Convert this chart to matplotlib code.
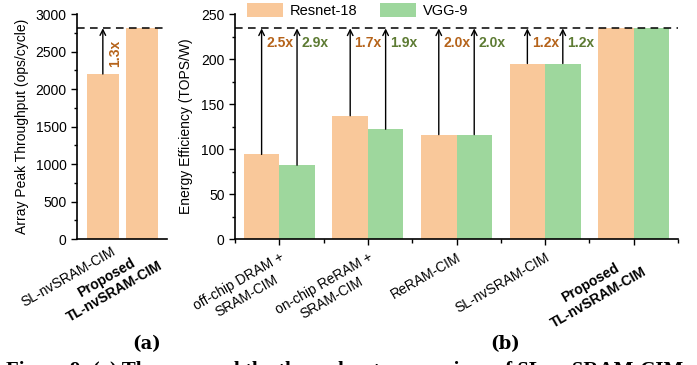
import numpy as np
import matplotlib
matplotlib.use('Agg')
import matplotlib.pyplot as plt
from matplotlib.ticker import MultipleLocator, FixedLocator

plt.rcParams['font.family'] = ['Liberation Sans', 'DejaVu Sans']

# panel (a) data
a_labels = ['SL-nvSRAM-CIM', 'Proposed\nTL-nvSRAM-CIM']
a_values = [2200, 2810]
a_gain = ['1.3x']

# panel (b) data
b_labels = ['off-chip DRAM +\nSRAM-CIM', 'on-chip ReRAM +\nSRAM-CIM', 'ReRAM-CIM',
            'SL-nvSRAM-CIM', 'Proposed\nTL-nvSRAM-CIM']
resnet = [94, 137, 116, 195, 234]
vgg = [82, 122, 116, 195, 234]
resnet_gain = ['2.5x', '1.7x', '2.0x', '1.2x']
vgg_gain = ['2.9x', '1.9x', '2.0x', '1.2x']

ORANGE = '#F9C89A'
GREEN = '#9ED79D'
ORANGE_TXT = '#B5631A'
GREEN_TXT = '#5D7B33'
FS = 10

fig = plt.figure(figsize=(6.97, 3.65), dpi=100)
ax1 = fig.add_axes([0.1105, 0.3452, 0.1291, 0.6164])
ax2 = fig.add_axes([0.3372, 0.3452, 0.6355, 0.6164])

def style(ax):
    for s in ['top', 'right']:
        ax.spines[s].set_visible(False)
    for s in ['left', 'bottom']:
        ax.spines[s].set_linewidth(1.2)
    ax.tick_params(axis='y', which='major', length=4, width=1, labelsize=FS, direction='out')
    ax.tick_params(axis='y', which='minor', length=2.5, width=1, direction='out')

# ---------- panel (a)
style(ax1)
xa = np.arange(len(a_values))
ax1.bar(xa, a_values, width=0.82, color=ORANGE)
top_a = a_values[-1]
ax1.axhline(top_a, color='black', ls=(0, (5, 3.5)), lw=1.1, clip_on=False)
ax1.annotate('', xy=(xa[0], top_a), xytext=(xa[0], a_values[0]),
             arrowprops=dict(arrowstyle='->', color='black', lw=1, shrinkA=0, shrinkB=0))
ax1.text(xa[0] + 0.32, 2470, a_gain[0], rotation=90, ha='center', va='center',
         color=ORANGE_TXT, fontweight='bold', fontsize=FS)
ax1.set_xlim(-0.66, 1.64)
ax1.set_ylim(0, 3000)
ax1.yaxis.set_major_locator(MultipleLocator(500))
ax1.yaxis.set_minor_locator(MultipleLocator(250))
# labels of panel (a) sit a little right of the bar centres (no tick marks drawn)
ax1.set_xticks(xa + 0.2)
ax1.set_xticklabels(a_labels, rotation=30, ha='right', rotation_mode='anchor', fontsize=FS)
for t in ax1.get_xticklabels():
    t.set_multialignment('center')
ax1.get_xticklabels()[1].set_fontweight('bold')
ax1.tick_params(axis='x', length=0, pad=4)
ax1.set_ylabel('Array Peak Throughput (ops/cycle)', fontsize=FS, labelpad=5)

# ---------- panel (b)
style(ax2)
xb = np.arange(len(b_labels))
w = 0.4
ax2.bar(xb - w / 2, resnet, width=w, color=ORANGE, label='Resnet-18')
ax2.bar(xb + w / 2, vgg, width=w, color=GREEN, label='VGG-9')
top_b = resnet[-1]
ax2.axhline(top_b, color='black', ls=(0, (5, 3.5)), lw=1.1, clip_on=False)
for i in range(len(resnet_gain)):
    for off, val, txt, col in [(-w / 2, resnet[i], resnet_gain[i], ORANGE_TXT),
                               (w / 2, vgg[i], vgg_gain[i], GREEN_TXT)]:
        ax2.annotate('', xy=(xb[i] + off, top_b), xytext=(xb[i] + off, val),
                     arrowprops=dict(arrowstyle='->', color='black', lw=1,
                                     shrinkA=0, shrinkB=0))
        ax2.text(xb[i] + off + 0.05, 218, txt, ha='left', va='center',
                 color=col, fontweight='bold', fontsize=FS)
ax2.set_xlim(-0.5, 4.5)
ax2.set_ylim(0, 250)
ax2.yaxis.set_major_locator(MultipleLocator(50))
ax2.yaxis.set_minor_locator(MultipleLocator(25))
ax2.set_xticks(xb)
ax2.xaxis.set_minor_locator(FixedLocator(np.arange(-0.5, 5, 1)))
ax2.set_xticklabels(b_labels, rotation=30, ha='right', rotation_mode='anchor', fontsize=FS)
ax2.get_xticklabels()[-1].set_fontweight('bold')
for t in ax2.get_xticklabels():
    t.set_multialignment('center')
ax2.tick_params(axis='x', which='major', length=4, width=1, pad=4)
ax2.tick_params(axis='x', which='minor', length=3, width=1)
ax2.set_ylabel('Energy Efficiency (TOPS/W)', fontsize=FS, labelpad=6)
ax2.legend(loc='upper left', bbox_to_anchor=(247 / 697, 1 - 3 / 365),
           bbox_transform=fig.transFigure, ncol=2, frameon=False, fontsize=FS + 0.5,
           handlelength=2.5, handleheight=1.1, handletextpad=0.45, columnspacing=1.5,
           borderaxespad=0, borderpad=0)

# sub-figure labels and the caption line cropped at the bottom edge
fig.text(147 / 697, 1 - 344 / 365, '(a)', ha='center', va='center', fontsize=13,
         fontweight='bold', family='DejaVu Serif')
fig.text(505 / 697, 1 - 344 / 365, '(b)', ha='center', va='center', fontsize=13,
         fontweight='bold', family='DejaVu Serif')
fig.text(6 / 697, 1 - 376 / 365,
         'Figure 9: (a) The area and the throughput comparison of SL-nvSRAM-CIM',
         ha='left', va='baseline', fontsize=15, fontweight='bold', family='Liberation Serif')

fig.savefig('out.png', dpi=100)
